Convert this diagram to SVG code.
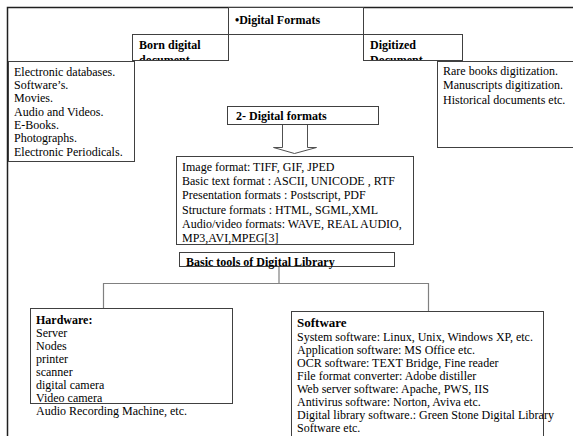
<svg xmlns="http://www.w3.org/2000/svg" width="573" height="436" viewBox="0 0 573 436">
<style>
.box{fill:#fff;stroke:#404040;stroke-width:1}
.t{font-family:"Liberation Serif","Times New Roman","DejaVu Serif",serif;font-size:12px;fill:#000}
.b{font-weight:bold}
.conn{fill:none;stroke:#808080;stroke-width:1.2}
</style>
<defs>
<clipPath id="cBorn"><rect x="132" y="34" width="96" height="26"/></clipPath>
<clipPath id="cDig"><rect x="363" y="34" width="99" height="26"/></clipPath>
</defs>
<rect x="0" y="0" width="573" height="436" fill="#fff"/>
<g id="frame">
<path d="M7.5 436 V7.5 H573" fill="none" stroke="#202020" stroke-width="1.5"/>
</g>
<g id="connectors">
<path class="conn" d="M279 266 V283.5 M103.5 308 V283.5 H428.5 V311"/>
<path d="M282.5 125 V147.5 H273.5 L294.5 153.5 L316.5 147.5 H307.5 V125" fill="#fff" stroke="#505050" stroke-width="1"/>
</g>
<g id="digital-formats">
<rect class="box" x="228.5" y="7.5" width="135" height="27"/>
<text class="t b" x="235" y="24">•Digital Formats</text>
</g>
<g id="born-digital">
<rect class="box" x="132.5" y="34.5" width="96" height="26"/>
<g clip-path="url(#cBorn)">
<text class="t b" x="139" y="49">Born digital</text>
<text class="t b" x="139" y="64">document</text>
</g>
</g>
<g id="digitized">
<rect class="box" x="363.5" y="34.5" width="99" height="26"/>
<g clip-path="url(#cDig)">
<text class="t b" x="370" y="49">Digitized</text>
<text class="t b" x="370" y="64">Document.</text>
</g>
</g>
<g id="born-list">
<rect class="box" x="8.5" y="61.5" width="126" height="100"/>
<text class="t"><tspan x="14" y="76">Electronic databases.</tspan><tspan x="14" y="89">Software’s.</tspan><tspan x="14" y="102">Movies.</tspan><tspan x="14" y="116">Audio and Videos.</tspan><tspan x="14" y="129">E-Books.</tspan><tspan x="14" y="142">Photographs.</tspan><tspan x="14" y="156">Electronic Periodicals.</tspan></text>
</g>
<g id="digitized-list">
<rect class="box" x="437.5" y="61.5" width="140" height="86" stroke="#707070"/>
<text class="t"><tspan x="443" y="75">Rare books digitization.</tspan><tspan x="443" y="89">Manuscripts digitization.</tspan><tspan x="443" y="104">Historical documents etc.</tspan></text>
</g>
<g id="digital-formats-2">
<rect class="box" x="227.5" y="106.5" width="151" height="18"/>
<text class="t b" x="236" y="120">2- Digital formats</text>
</g>
<g id="formats-list">
<rect class="box" x="176.5" y="156.5" width="237" height="88"/>
<text class="t"><tspan x="182" y="171">Image format: TIFF, GIF, JPED</tspan><tspan x="182" y="185">Basic text format : ASCII, UNICODE  , RTF</tspan><tspan x="182" y="199">Presentation formats : Postscript, PDF</tspan><tspan x="182" y="214">Structure formats : HTML,  SGML,XML</tspan><tspan x="182" y="228">Audio/video formats: WAVE, REAL AUDIO,</tspan><tspan x="182" y="242">MP3,AVI,MPEG[3]</tspan></text>
</g>
<g id="basic-tools">
<rect class="box" x="179.5" y="252.5" width="215" height="14"/>
<text class="t b" x="186" y="266" font-size="13">Basic tools of Digital Library</text>
</g>
<g id="hardware">
<rect class="box" x="30.5" y="308.5" width="202" height="95"/>
<text class="t"><tspan x="36" y="324" font-weight="bold">Hardware:</tspan><tspan x="36" y="337">Server</tspan><tspan x="36" y="350">Nodes</tspan><tspan x="36" y="363">printer</tspan><tspan x="36" y="376">scanner</tspan><tspan x="36" y="389">digital camera</tspan><tspan x="36" y="402">Video camera</tspan><tspan x="36" y="415">Audio Recording Machine, etc.</tspan></text>
</g>
<g id="software">
<rect class="box" x="291.5" y="311.5" width="252" height="130"/>
<text class="t"><tspan x="297" y="327" font-weight="bold" font-size="13">Software</tspan><tspan x="297" y="341">System software: Linux, Unix, Windows XP, etc.</tspan><tspan x="297" y="354">Application software: MS Office etc.</tspan><tspan x="297" y="367">OCR software:  TEXT Bridge, Fine reader</tspan><tspan x="297" y="380">File format converter: Adobe distiller</tspan><tspan x="297" y="393">Web server software: Apache, PWS, IIS</tspan><tspan x="297" y="406">Antivirus software: Norton, Aviva etc.</tspan><tspan x="297" y="419">Digital library software.: Green Stone Digital Library</tspan><tspan x="297" y="432">Software etc.</tspan></text>
</g>
</svg>
